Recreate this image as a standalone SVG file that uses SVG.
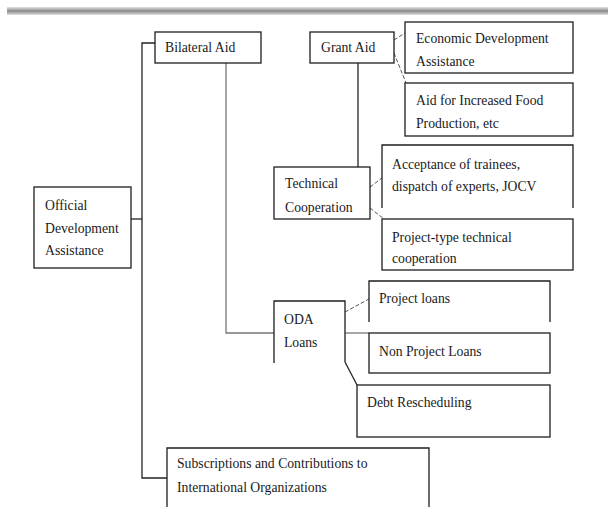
<svg xmlns="http://www.w3.org/2000/svg" width="608" height="507" viewBox="0 0 608 507">
<defs>
<linearGradient id="bar" x1="0" y1="0" x2="0" y2="1">
<stop offset="0" stop-color="#e4e4e4"/>
<stop offset="0.5" stop-color="#8a8a8a"/>
<stop offset="1" stop-color="#e0e0e0"/>
</linearGradient>
</defs>
<style>
.box{fill:#fff;stroke:#1e1e1e;stroke-width:1.3}
.open{fill:none;stroke:#1e1e1e;stroke-width:1.3}
.t{font-family:'Liberation Serif',serif;font-size:13.7px;fill:#1a1a1a}
.ln{fill:none;stroke:#222;stroke-width:1.3}
.gl{fill:none;stroke:#777;stroke-width:1.3}
.dl{fill:none;stroke:#555;stroke-width:1;stroke-dasharray:4,2}
</style>
<rect x="7" y="7" width="601" height="8" fill="url(#bar)"/>
<g id="connectors">
<polyline class="ln" points="131,219 142,219"/>
<polyline class="ln" points="155,43 142,43 142,478 167,478"/>
<polyline class="gl" points="226,63 226,333 274,333"/>
<line class="ln" x1="358" y1="63" x2="358" y2="167"/>
<line class="dl" x1="394" y1="40" x2="405" y2="33"/>
<line class="dl" x1="394" y1="53" x2="406" y2="83"/>
<line class="dl" x1="370" y1="187" x2="382" y2="178"/>
<line class="dl" x1="370" y1="208" x2="384" y2="219"/>
<line class="dl" x1="345" y1="312" x2="369" y2="299"/>
<line class="gl" x1="345" y1="333" x2="369" y2="333"/>
<line class="ln" x1="345" y1="362" x2="357" y2="385"/>
</g>
<g id="oda">
<rect class="box" x="34" y="187" width="97" height="81"/>
<text class="t" x="45" y="210">Official</text>
<text class="t" x="45" y="233">Development</text>
<text class="t" x="45" y="255">Assistance</text>
</g>
<g id="bilateral">
<rect class="box" x="155" y="32" width="106" height="31"/>
<text class="t" x="165" y="52">Bilateral Aid</text>
</g>
<g id="grant">
<rect class="box" x="310" y="32" width="84" height="31"/>
<text class="t" x="321" y="52">Grant Aid</text>
</g>
<g id="econ">
<rect class="box" x="405" y="22" width="168" height="51"/>
<text class="t" x="416" y="43">Economic Development</text>
<text class="t" x="416" y="66">Assistance</text>
</g>
<g id="food">
<rect class="box" x="405" y="83" width="168" height="53"/>
<text class="t" x="416" y="105">Aid for Increased Food</text>
<text class="t" x="416" y="128">Production, etc</text>
</g>
<g id="techcoop">
<rect class="box" x="274" y="167" width="96" height="52"/>
<text class="t" x="285" y="188">Technical</text>
<text class="t" x="285" y="212">Cooperation</text>
</g>
<g id="acceptance">
<path class="open" d="M382,208 V145 H573 V208"/>
<text class="t" x="392" y="169">Acceptance of trainees,</text>
<text class="t" x="392" y="191">dispatch of experts, JOCV</text>
</g>
<g id="projecttype">
<rect class="box" x="382" y="219" width="191" height="51"/>
<text class="t" x="392" y="242">Project-type technical</text>
<text class="t" x="392" y="263">cooperation</text>
</g>
<g id="odaloans">
<path class="open" d="M274,363 V301 H345 V362"/>
<text class="t" x="284" y="324">ODA</text>
<text class="t" x="284" y="347">Loans</text>
</g>
<g id="projectloans">
<path class="open" d="M369,322 V281 H550 V322"/>
<text class="t" x="379" y="303">Project loans</text>
</g>
<g id="nonproject">
<rect class="box" x="369" y="333" width="181" height="40"/>
<text class="t" x="379" y="356">Non Project Loans</text>
</g>
<g id="debt">
<rect class="box" x="357" y="385" width="193" height="52"/>
<text class="t" x="367" y="407">Debt Rescheduling</text>
</g>
<g id="subscriptions">
<path class="open" d="M167,510 V448 H429 V510"/>
<text class="t" x="177" y="468">Subscriptions and Contributions to</text>
<text class="t" x="177" y="492">International Organizations</text>
</g>
</svg>
